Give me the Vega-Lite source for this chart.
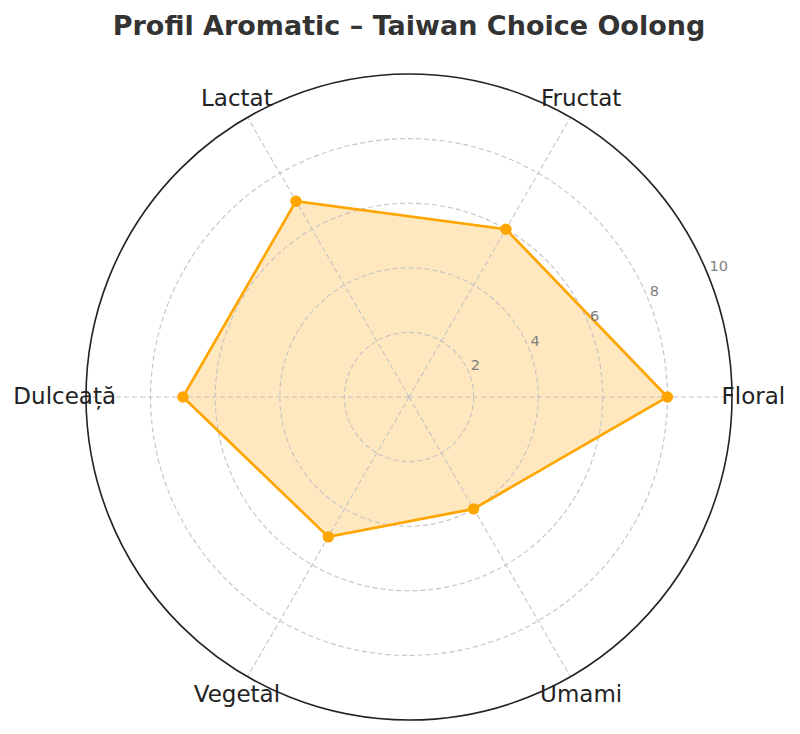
{
  "$schema": "https://vega.github.io/schema/vega-lite/v6.json",
  "width": 800,
  "height": 684,
  "autosize": "none",
  "padding": {"top": 50, "left": 0, "right": 0, "bottom": 0},
  "background": "white",
  "title": {
    "text": "Profil Aromatic – Taiwan Choice Oolong",
    "font": "DejaVu Sans",
    "fontSize": 27,
    "fontWeight": "bold",
    "color": "#333333",
    "anchor": "middle",
    "dx": 9,
    "offset": 9
  },
  "datasets": {
    "arome": [
      {"aroma": "Floral", "scor": 8},
      {"aroma": "Fructat", "scor": 6},
      {"aroma": "Lactat", "scor": 7},
      {"aroma": "Dulceață", "scor": 7},
      {"aroma": "Vegetal", "scor": 5},
      {"aroma": "Umami", "scor": 4}
    ],
    "inele": [
      {"r": 2}, {"r": 4}, {"r": 6}, {"r": 8}, {"r": 10}
    ]
  },
  "layer": [
    {
      "data": {"name": "arome"},
      "transform": [
        {"window": [{"op": "row_number", "as": "i"}]},
        {"calculate": "(datum.i - 1) * PI / 3", "as": "ang"},
        {"calculate": "datum.scor * cos(datum.ang)", "as": "px"},
        {"calculate": "datum.scor * sin(datum.ang)", "as": "py"}
      ],
      "mark": {
        "type": "line",
        "interpolate": "linear-closed",
        "strokeOpacity": 0,
        "fill": "#FFA500",
        "fillOpacity": 0.25
      },
      "encoding": {
        "x": {"field": "px", "type": "quantitative", "scale": {"domain": [-12.663, 12.105], "nice": false, "zero": false}, "axis": null},
        "y": {"field": "py", "type": "quantitative", "scale": {"domain": [-10.433, 10.743], "nice": false, "zero": false}, "axis": null},
        "order": {"field": "i", "type": "quantitative"}
      }
    },
    {
      "data": {"name": "inele"},
      "transform": [{"filter": "datum.r < 10"}, {"calculate": "0", "as": "c"}],
      "mark": {
        "type": "point",
        "shape": "circle",
        "filled": false,
        "stroke": "#c4c4c4",
        "strokeWidth": 1.1,
        "strokeDash": [5, 3],
        "opacity": 1
      },
      "encoding": {
        "x": {"field": "c", "type": "quantitative"},
        "y": {"field": "c", "type": "quantitative"},
        "size": {"field": "r", "type": "quantitative", "scale": {"type": "pow", "exponent": 2, "domain": [0, 10], "range": [0, 417316], "zero": true}, "legend": null}
      }
    },
    {
      "data": {"name": "arome"},
      "transform": [
        {"window": [{"op": "row_number", "as": "i"}]},
        {"calculate": "(datum.i - 1) * PI / 3", "as": "ang"},
        {"calculate": "10 * cos(datum.ang)", "as": "sx"},
        {"calculate": "10 * sin(datum.ang)", "as": "sy"},
        {"calculate": "0", "as": "c"}
      ],
      "mark": {"type": "rule", "color": "#c4c4c4", "strokeWidth": 1.1, "strokeDash": [5, 3]},
      "encoding": {
        "x": {"field": "c", "type": "quantitative"},
        "y": {"field": "c", "type": "quantitative"},
        "x2": {"field": "sx"},
        "y2": {"field": "sy"}
      }
    },
    {
      "data": {"name": "arome"},
      "transform": [
        {"window": [{"op": "row_number", "as": "i"}]},
        {"calculate": "(datum.i - 1) * PI / 3", "as": "ang"},
        {"calculate": "datum.scor * cos(datum.ang)", "as": "px"},
        {"calculate": "datum.scor * sin(datum.ang)", "as": "py"}
      ],
      "mark": {
        "type": "line",
        "interpolate": "linear-closed",
        "stroke": "#FFA500",
        "strokeWidth": 2.7
      },
      "encoding": {
        "x": {"field": "px", "type": "quantitative"},
        "y": {"field": "py", "type": "quantitative"},
        "order": {"field": "i", "type": "quantitative"}
      }
    },
    {
      "data": {"name": "arome"},
      "transform": [
        {"window": [{"op": "row_number", "as": "i"}]},
        {"calculate": "(datum.i - 1) * PI / 3", "as": "ang"},
        {"calculate": "datum.scor * cos(datum.ang)", "as": "px"},
        {"calculate": "datum.scor * sin(datum.ang)", "as": "py"}
      ],
      "mark": {"type": "circle", "color": "#FFA500", "opacity": 1, "size": 130},
      "encoding": {
        "x": {"field": "px", "type": "quantitative"},
        "y": {"field": "py", "type": "quantitative"}
      }
    },
    {
      "data": {"name": "arome"},
      "transform": [
        {"window": [{"op": "row_number", "as": "i"}]},
        {"calculate": "(datum.i - 1) * PI / 3", "as": "ang"},
        {"calculate": "10.66 * cos(datum.ang)", "as": "lx"},
        {"calculate": "10.66 * sin(datum.ang)", "as": "ly"}
      ],
      "mark": {"type": "text", "font": "DejaVu Sans", "fontSize": 23, "color": "#222222", "align": "center", "baseline": "middle"},
      "encoding": {
        "x": {"field": "lx", "type": "quantitative"},
        "y": {"field": "ly", "type": "quantitative"},
        "text": {"field": "aroma", "type": "nominal"}
      }
    },
    {
      "data": {"name": "inele"},
      "transform": [{"filter": "datum.r == 10"}, {"calculate": "0", "as": "c"}],
      "mark": {
        "type": "point",
        "shape": "circle",
        "filled": false,
        "stroke": "#222222",
        "strokeWidth": 1.6,
        "opacity": 1
      },
      "encoding": {
        "x": {"field": "c", "type": "quantitative"},
        "y": {"field": "c", "type": "quantitative"},
        "size": {"field": "r", "type": "quantitative"}
      }
    },
    {
      "data": {"name": "inele"},
      "transform": [
        {"calculate": "datum.r * cos(PI / 8)", "as": "tx"},
        {"calculate": "datum.r * sin(PI / 8)", "as": "ty"}
      ],
      "mark": {"type": "text", "font": "DejaVu Sans", "fontSize": 14.5, "color": "#808080", "align": "left", "baseline": "alphabetic", "dx": 2, "dy": -2},
      "encoding": {
        "x": {"field": "tx", "type": "quantitative"},
        "y": {"field": "ty", "type": "quantitative"},
        "text": {"field": "r", "type": "quantitative"}
      }
    }
  ],
  "config": {
    "view": {"stroke": null}
  }
}
